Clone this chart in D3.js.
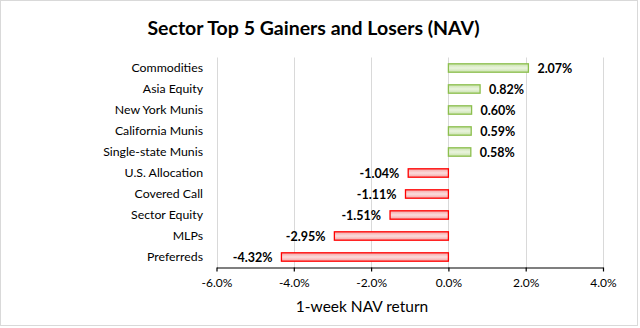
<!DOCTYPE html>
<html>
<head>
<meta charset="utf-8">
<script src="https://cdn.jsdelivr.net/npm/d3@7"></script>
<style>
  html, body { margin: 0; padding: 0; background: #fff; }
  svg { display: block; font-family: Lato, "Open Sans", sans-serif; }
</style>
</head>
<body>
<svg id="chart" width="640" height="328"></svg>
<script>
// Sector names, top to bottom
const categories = [
  "Commodities", "Asia Equity", "New York Munis", "California Munis",
  "Single-state Munis", "U.S. Allocation", "Covered Call", "Sector Equity",
  "MLPs", "Preferreds"
];
// 1-week NAV return, in percent
const values = [2.07, 0.82, 0.60, 0.59, 0.58, -1.04, -1.11, -1.51, -2.95, -4.32];
// Axis ticks, in percent
const tickValues = [-6, -4, -2, 0, 2, 4];

const svg = d3.select("#chart");
const W = 640, H = 328;

// outer frame
svg.append("rect")
  .attr("x", 0.5).attr("y", 0.5)
  .attr("width", 637).attr("height", 325)
  .attr("fill", "#fff").attr("stroke", "#d9d9d9").attr("stroke-width", 1);

const margin = { left: 216.5, right: 37, top: 57.5, bottom: 60.5 };
const x = d3.scaleLinear().domain([-6, 4]).range([margin.left, W - margin.right]);
const y = d3.scaleBand().domain(categories).range([margin.top, H - margin.bottom]).paddingInner(0.6).paddingOuter(0.3);

const defs = svg.append("defs");
function grad(id, c1, c2) {
  const g = defs.append("linearGradient").attr("id", id)
    .attr("x1", 0).attr("y1", 0).attr("x2", 0).attr("y2", 1);
  g.append("stop").attr("offset", "0%").attr("stop-color", c1);
  g.append("stop").attr("offset", "50%").attr("stop-color", c2);
  g.append("stop").attr("offset", "100%").attr("stop-color", c1);
}
grad("gPos", "#c9e2ad", "#eaf4de");
grad("gNeg", "#f4a3a3", "#fbdcdc");

// title
svg.append("text")
  .attr("x", 313.5).attr("y", 35)
  .attr("text-anchor", "middle")
  .attr("font-size", 19.5).attr("font-weight", "bold")
  .attr("fill", "#000")
  .text("Sector Top 5 Gainers and Losers (NAV)");

// vertical gridlines
svg.append("g").selectAll("line").data(tickValues).join("line")
  .attr("x1", d => Math.round(x(d)) + 0.5).attr("x2", d => Math.round(x(d)) + 0.5)
  .attr("y1", margin.top).attr("y2", H - margin.bottom)
  .attr("stroke", "#d9d9d9").attr("stroke-width", 1);

// bars
svg.append("g").selectAll("rect").data(values).join("rect")
  .attr("x", d => x(Math.min(0, d)))
  .attr("y", (d, i) => y(categories[i]))
  .attr("width", d => Math.abs(x(d) - x(0)))
  .attr("height", y.bandwidth())
  .attr("fill", d => d >= 0 ? "url(#gPos)" : "url(#gNeg)")
  .attr("stroke", d => d >= 0 ? "#8cbf4e" : "#ff0000")
  .attr("stroke-width", 1.3);

// value labels
svg.append("g").selectAll("text").data(values).join("text")
  .attr("x", d => d >= 0 ? x(d) + 9 : x(d) - 9)
  .attr("y", (d, i) => y(categories[i]) + y.bandwidth() / 2)
  .attr("dy", "0.36em")
  .attr("text-anchor", d => d >= 0 ? "start" : "end")
  .attr("font-size", 12.5).attr("font-weight", "bold")
  .attr("fill", "#000")
  .text(d => d.toFixed(2) + "%");

// category labels
svg.append("g").selectAll("text").data(categories).join("text")
  .attr("x", 203)
  .attr("y", d => y(d) + y.bandwidth() / 2)
  .attr("dy", "0.36em")
  .attr("text-anchor", "end")
  .attr("font-size", 12.3).attr("fill", "#000")
  .text(d => d);

// bottom axis
const axis = svg.append("g")
  .attr("transform", `translate(0,${H - margin.bottom})`)
  .call(d3.axisBottom(x).tickValues(tickValues).tickSize(4).tickSizeOuter(0)
    .tickFormat(d => d.toFixed(1) + "%"));
axis.select(".domain").attr("stroke", "#000").attr("stroke-width", 1.2);
axis.selectAll(".tick line").attr("stroke", "#000").attr("stroke-width", 1.2);
axis.selectAll(".tick text")
  .attr("font-family", "Lato, 'Open Sans', sans-serif")
  .attr("font-size", 12).attr("fill", "#000").attr("y", 11);

// axis title
svg.append("text")
  .attr("x", 362).attr("y", 312)
  .attr("text-anchor", "middle")
  .attr("font-size", 15.5).attr("fill", "#000")
  .text("1-week NAV return");
</script>
</body>
</html>
